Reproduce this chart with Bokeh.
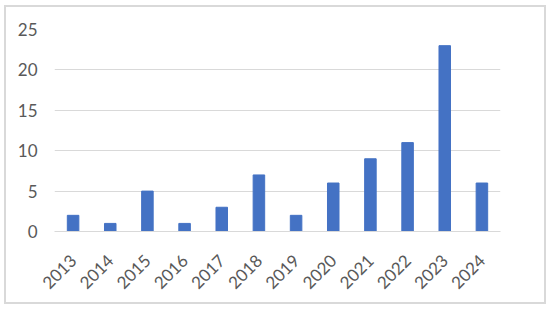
import math
from bokeh.plotting import figure
from bokeh.models import Range1d, FactorRange
from bokeh.embed import file_html
from bokeh.resources import INLINE

years = ["2013", "2014", "2015", "2016", "2017", "2018", "2019", "2020", "2021", "2022", "2023", "2024"]
counts = [2, 1, 5, 1, 3, 7, 2, 6, 9, 11, 23, 6]
y_ticks = [0, 5, 10, 15, 20, 25]

p = figure(width=542, height=299, x_range=FactorRange(*years), y_range=Range1d(0, 25),
           output_backend="svg", toolbar_location=None,
           min_border_left=48, min_border_right=48, min_border_top=22, min_border_bottom=75)
p.vbar(x=years, top=counts, width=0.31, color="#4472C4")

p.outline_line_color = None
p.styles = {"border": "2px solid #D9D9D9", "box-sizing": "border-box",
            "margin-left": "4px", "margin-top": "5px"}
p.xgrid.grid_line_color = None
p.ygrid.grid_line_color = "#D9D9D9"
p.ygrid.grid_line_width = 1
p.yaxis.ticker = y_ticks
p.yaxis.axis_line_color = None
p.yaxis.major_tick_line_color = None
p.yaxis.minor_tick_line_color = None
p.yaxis.major_tick_out = 0
p.yaxis.major_label_standoff = 17
p.xaxis.axis_line_color = "#D9D9D9"
p.xaxis.major_tick_line_color = None
p.xaxis.minor_tick_line_color = None
p.xaxis.major_tick_out = 0
p.xaxis.major_label_orientation = math.pi / 4
p.xaxis.major_label_standoff = 26
p.x_range.range_padding = 0
p.x_range.group_padding = 0
for ax in (p.xaxis, p.yaxis):
    ax.major_label_text_font = "Lato"
    ax.major_label_text_font_size = "17px"
    ax.major_label_text_color = "#595959"

open("out.html", "w").write(file_html(p, INLINE))
